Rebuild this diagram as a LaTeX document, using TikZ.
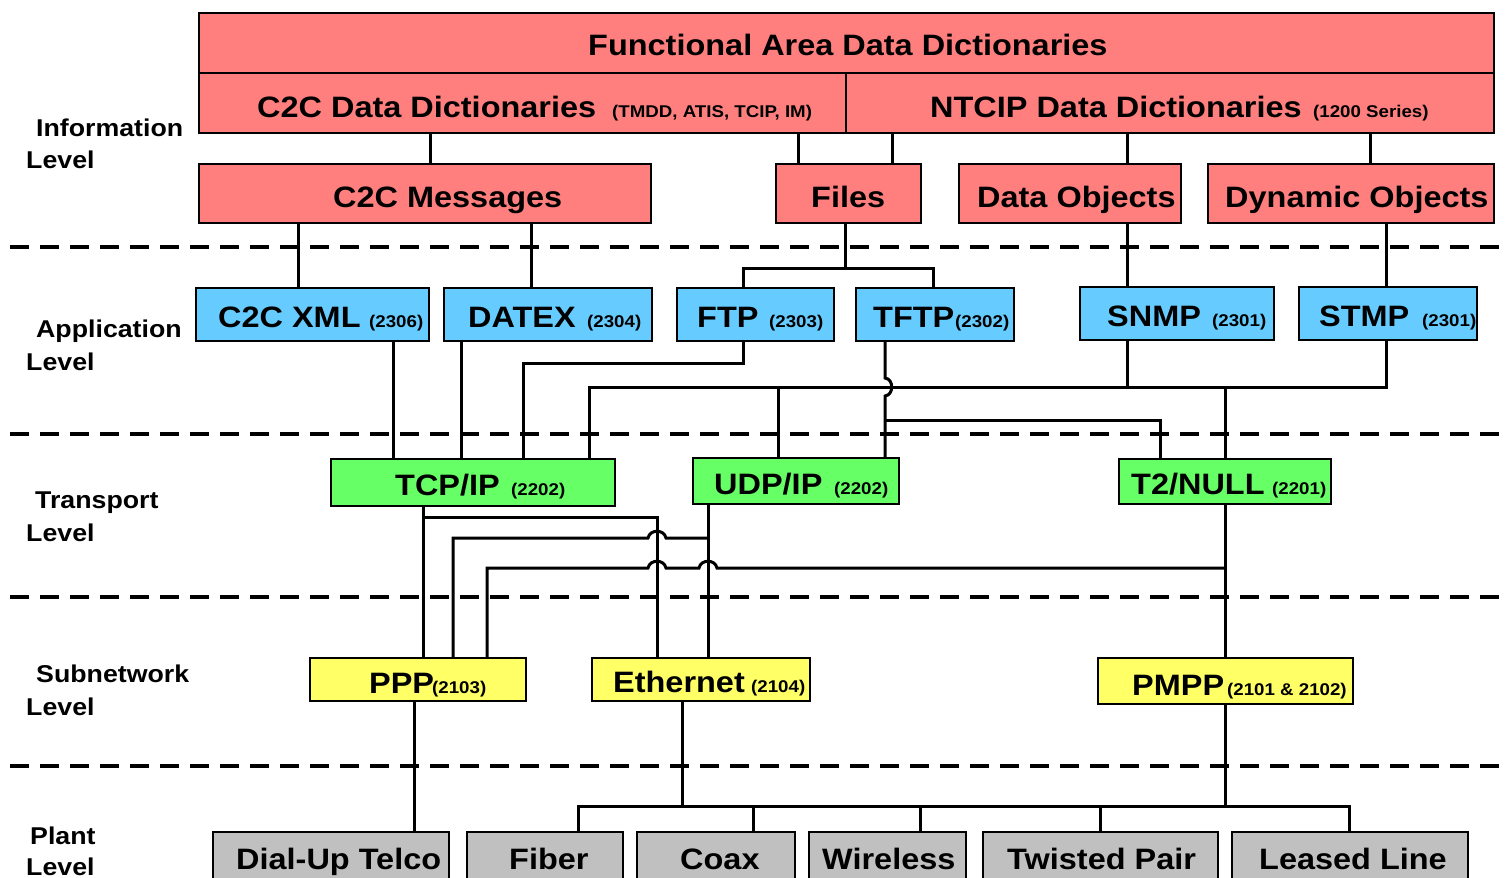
\documentclass[tikz,border=0pt]{standalone}
\usepackage{fontspec}
\newfontfamily\wf{Liberation Sans}[FakeStretch=1.1]
\definecolor{cRed}{HTML}{FF7F7F}
\definecolor{cBlue}{HTML}{66CCFF}
\definecolor{cGreen}{HTML}{66FF66}
\definecolor{cYellow}{HTML}{FFFF66}
\definecolor{cGray}{HTML}{C0C0C0}
\tikzset{
  box/.style={draw=black, line width=2.2pt, rectangle, inner sep=0pt, anchor=north west},
  big/.style={anchor=base west, inner sep=0pt, font=\wf\bfseries\fontsize{29.5}{32}\selectfont},
  sml/.style={anchor=base west, inner sep=0pt, font=\wf\bfseries\fontsize{17}{19}\selectfont},
  lvl/.style={anchor=base west, inner sep=0pt, font=\wf\bfseries\fontsize{24.3}{27}\selectfont},
  conn/.style={draw=black, line width=3pt},
  levelline/.style={draw=black, line width=4.5pt, dash pattern=on 19pt off 11pt},
}
\newcommand\bx[6]{\node[box, fill=#2, minimum width={#5pt-#3pt}, minimum height={#6pt-#4pt}] (#1) at (#3,#4) {};}
\begin{document}
\begin{tikzpicture}[x=1pt, y=-1pt]
\useasboundingbox (0,0) rectangle (1508,878);
\clip (0,0) rectangle (1508,878);

% level separators
\draw[levelline] (10,247) -- (1508,247);
\draw[levelline] (10,434) -- (1508,434);
\draw[levelline] (10,597) -- (1508,597);
\draw[levelline] (10,766) -- (1508,766);

% level labels
\node[lvl] (lInfoA) at (36,136) {Information};
\node[lvl] (lInfoB) at (26,168) {Level};
\node[lvl] (lAppA) at (36,337) {Application};
\node[lvl] (lAppB) at (26,370) {Level};
\node[lvl] (lTrA) at (35,508) {Transport};
\node[lvl] (lTrB) at (26,541) {Level};
\node[lvl] (lSubA) at (36,682) {Subnetwork};
\node[lvl] (lSubB) at (26,715) {Level};
\node[lvl] (lPlA) at (30,844) {Plant};
\node[lvl] (lPlB) at (26,875) {Level};

% ---- boxes ----
\bx{fad}{cRed}{198}{12}{1493}{72}
\bx{c2cdd}{cRed}{198}{72}{845}{132}
\bx{ntcipdd}{cRed}{845}{72}{1493}{132}
\bx{msgs}{cRed}{198}{163}{650}{222}
\bx{files}{cRed}{775}{163}{920}{222}
\bx{dobj}{cRed}{958}{163}{1180}{222}
\bx{dynobj}{cRed}{1207}{163}{1493}{222}

\bx{xml}{cBlue}{195}{287}{428}{340}
\bx{datex}{cBlue}{443}{287}{651}{340}
\bx{ftp}{cBlue}{676}{287}{833}{340}
\bx{tftp}{cBlue}{855}{287}{1013}{340}
\bx{snmp}{cBlue}{1079}{286}{1273}{339}
\bx{stmp}{cBlue}{1298}{286}{1476}{339}

\bx{tcp}{cGreen}{330}{458}{614}{505}
\bx{udp}{cGreen}{692}{457}{898}{503}
\bx{tnull}{cGreen}{1118}{458}{1330}{503}

\bx{ppp}{cYellow}{309}{657}{525}{700}
\bx{eth}{cYellow}{591}{657}{809}{700}
\bx{pmpp}{cYellow}{1097}{657}{1352}{703}

\bx{dial}{cGray}{212}{831}{448}{895}
\bx{fiber}{cGray}{466}{831}{622}{895}
\bx{coax}{cGray}{636}{831}{794}{895}
\bx{wless}{cGray}{808}{831}{965}{895}
\bx{tpair}{cGray}{982}{831}{1217}{895}
\bx{lline}{cGray}{1231}{831}{1467}{895}

% ---- connectors ----
% information level
\draw[conn] (430,0 |- c2cdd.south) -- (430,0 |- msgs.north);
\draw[conn] (798,0 |- c2cdd.south) -- (798,0 |- files.north);
\draw[conn] (892,0 |- ntcipdd.south) -- (892,0 |- files.north);
\draw[conn] (1127,0 |- ntcipdd.south) -- (1127,0 |- dobj.north);
\draw[conn] (1370,0 |- ntcipdd.south) -- (1370,0 |- dynobj.north);

% information -> application
\draw[conn] (298,0 |- msgs.south) -- (298,0 |- xml.north);
\draw[conn] (531,0 |- msgs.south) -- (531,0 |- datex.north);
\coordinate (fj) at (845,268);
\draw[conn] (845,0 |- files.south) -- (fj);
\draw[conn] (743,0 |- ftp.north) -- (743,268) -- (933,268) -- (933,0 |- tftp.north);
\draw[conn] (1127,0 |- dobj.south) -- (1127,0 |- snmp.north);
\draw[conn] (1386,0 |- dynobj.south) -- (1386,0 |- stmp.north);

% application -> transport
\draw[conn] (393,0 |- xml.south) -- (393,0 |- tcp.north);
\draw[conn] (461,0 |- datex.south) -- (461,0 |- tcp.north);
\draw[conn] (743,0 |- ftp.south) -- (743,363) -- (523,363) -- (523,0 |- tcp.north);
\coordinate (aj) at (1225,387);
\draw[conn] (1127,0 |- snmp.south) -- (1127,387);
\draw[conn] (1386,0 |- stmp.south) -- (1386,387) -- (589,387) -- (589,0 |- tcp.north);
\draw[conn] (778,387) -- (778,0 |- udp.north);
\draw[conn] (aj) -- (1225,0 |- tnull.north);
\draw[conn] (885,0 |- tftp.south) -- (885,378) .. controls (894,379) and (894,395) .. (885,396)
  -- (885,0 |- udp.north);
\draw[conn] (885,420) -- (1160,420) -- (1160,0 |- tnull.north);

% transport -> subnetwork
\draw[conn] (423,0 |- tcp.south) -- (423,0 |- ppp.north);
\draw[conn] (423,517) -- (657,517) -- (657,0 |- eth.north);
\draw[conn] (708,0 |- udp.south) -- (708,0 |- eth.north);
\draw[conn] (708,538) -- (666,538) .. controls (664,529) and (650,529) .. (648,538)
  -- (453,538) -- (453,0 |- ppp.north);
\draw[conn] (1225,0 |- tnull.south) -- (1225,0 |- pmpp.north);
\draw[conn] (1225,568) -- (717,568) .. controls (715,559) and (701,559) .. (699,568)
  -- (666,568) .. controls (664,559) and (650,559) .. (648,568)
  -- (487,568) -- (487,0 |- ppp.north);

% subnetwork -> plant
\draw[conn] (414,0 |- ppp.south) -- (414,0 |- dial.north);
\draw[conn] (682,0 |- eth.south) -- (682,806);
\draw[conn] (1225,0 |- pmpp.south) -- (1225,806);
\draw[conn] (578,0 |- fiber.north) -- (578,806) -- (1349,806) -- (1349,0 |- lline.north);
\draw[conn] (753,806) -- (753,0 |- coax.north);
\draw[conn] (920,806) -- (920,0 |- wless.north);
\draw[conn] (1100,806) -- (1100,0 |- tpair.north);

% ---- texts ----
\node[big] (tFad) at (588,55) {Functional Area Data Dictionaries};
\node[big] (tC2cdd) at (257,117) {C2C Data Dictionaries};
\node[sml] (sC2cdd) at (612,117) {(TMDD, ATIS, TCIP, IM)};
\node[big] (tNtcip) at (930,117) {NTCIP Data Dictionaries};
\node[sml] (sNtcip) at (1313,117) {(1200 Series)};
\node[big] (tMsgs) at (333,207) {C2C Messages};
\node[big] (tFiles) at (811,207) {Files};
\node[big] (tDobj) at (977,207) {Data Objects};
\node[big] (tDyn) at (1225,207) {Dynamic Objects};

\node[big] (tXml) at (218,327) {C2C XML};
\node[sml] (sXml) at (369,327) {(2306)};
\node[big] (tDatex) at (468,327) {DATEX};
\node[sml] (sDatex) at (587,327) {(2304)};
\node[big] (tFtp) at (697,327) {FTP};
\node[sml] (sFtp) at (769,327) {(2303)};
\node[big] (tTftp) at (873,327) {TFTP};
\node[sml] (sTftp) at (955,327) {(2302)};
\node[big] (tSnmp) at (1107,326) {SNMP};
\node[sml] (sSnmp) at (1212,326) {(2301)};
\node[big] (tStmp) at (1319,326) {STMP};
\node[sml] (sStmp) at (1422,326) {(2301)};

\node[big] (tTcp) at (395,495) {TCP/IP};
\node[sml] (sTcp) at (511,495) {(2202)};
\node[big] (tUdp) at (714,494) {UDP/IP};
\node[sml] (sUdp) at (834,494) {(2202)};
\node[big] (tTnull) at (1131,494) {T2/NULL};
\node[sml] (sTnull) at (1272,494) {(2201)};

\node[big] (tPpp) at (369,693) {PPP};
\node[sml] (sPpp) at (432,693) {(2103)};
\node[big] (tEth) at (613,692) {Ethernet};
\node[sml] (sEth) at (751,692) {(2104)};
\node[big] (tPmpp) at (1132,695) {PMPP};
\node[sml] (sPmpp) at (1227,695) {(2101 \& 2102)};

\node[big] (tDial) at (236,869) {Dial-Up Telco};
\node[big] (tFiber) at (509,869) {Fiber};
\node[big] (tCoax) at (680,869) {Coax};
\node[big] (tWless) at (822,869) {Wireless};
\node[big] (tTpair) at (1007,869) {Twisted Pair};
\node[big] (tLline) at (1259,869) {Leased Line};
\end{tikzpicture}
\end{document}
